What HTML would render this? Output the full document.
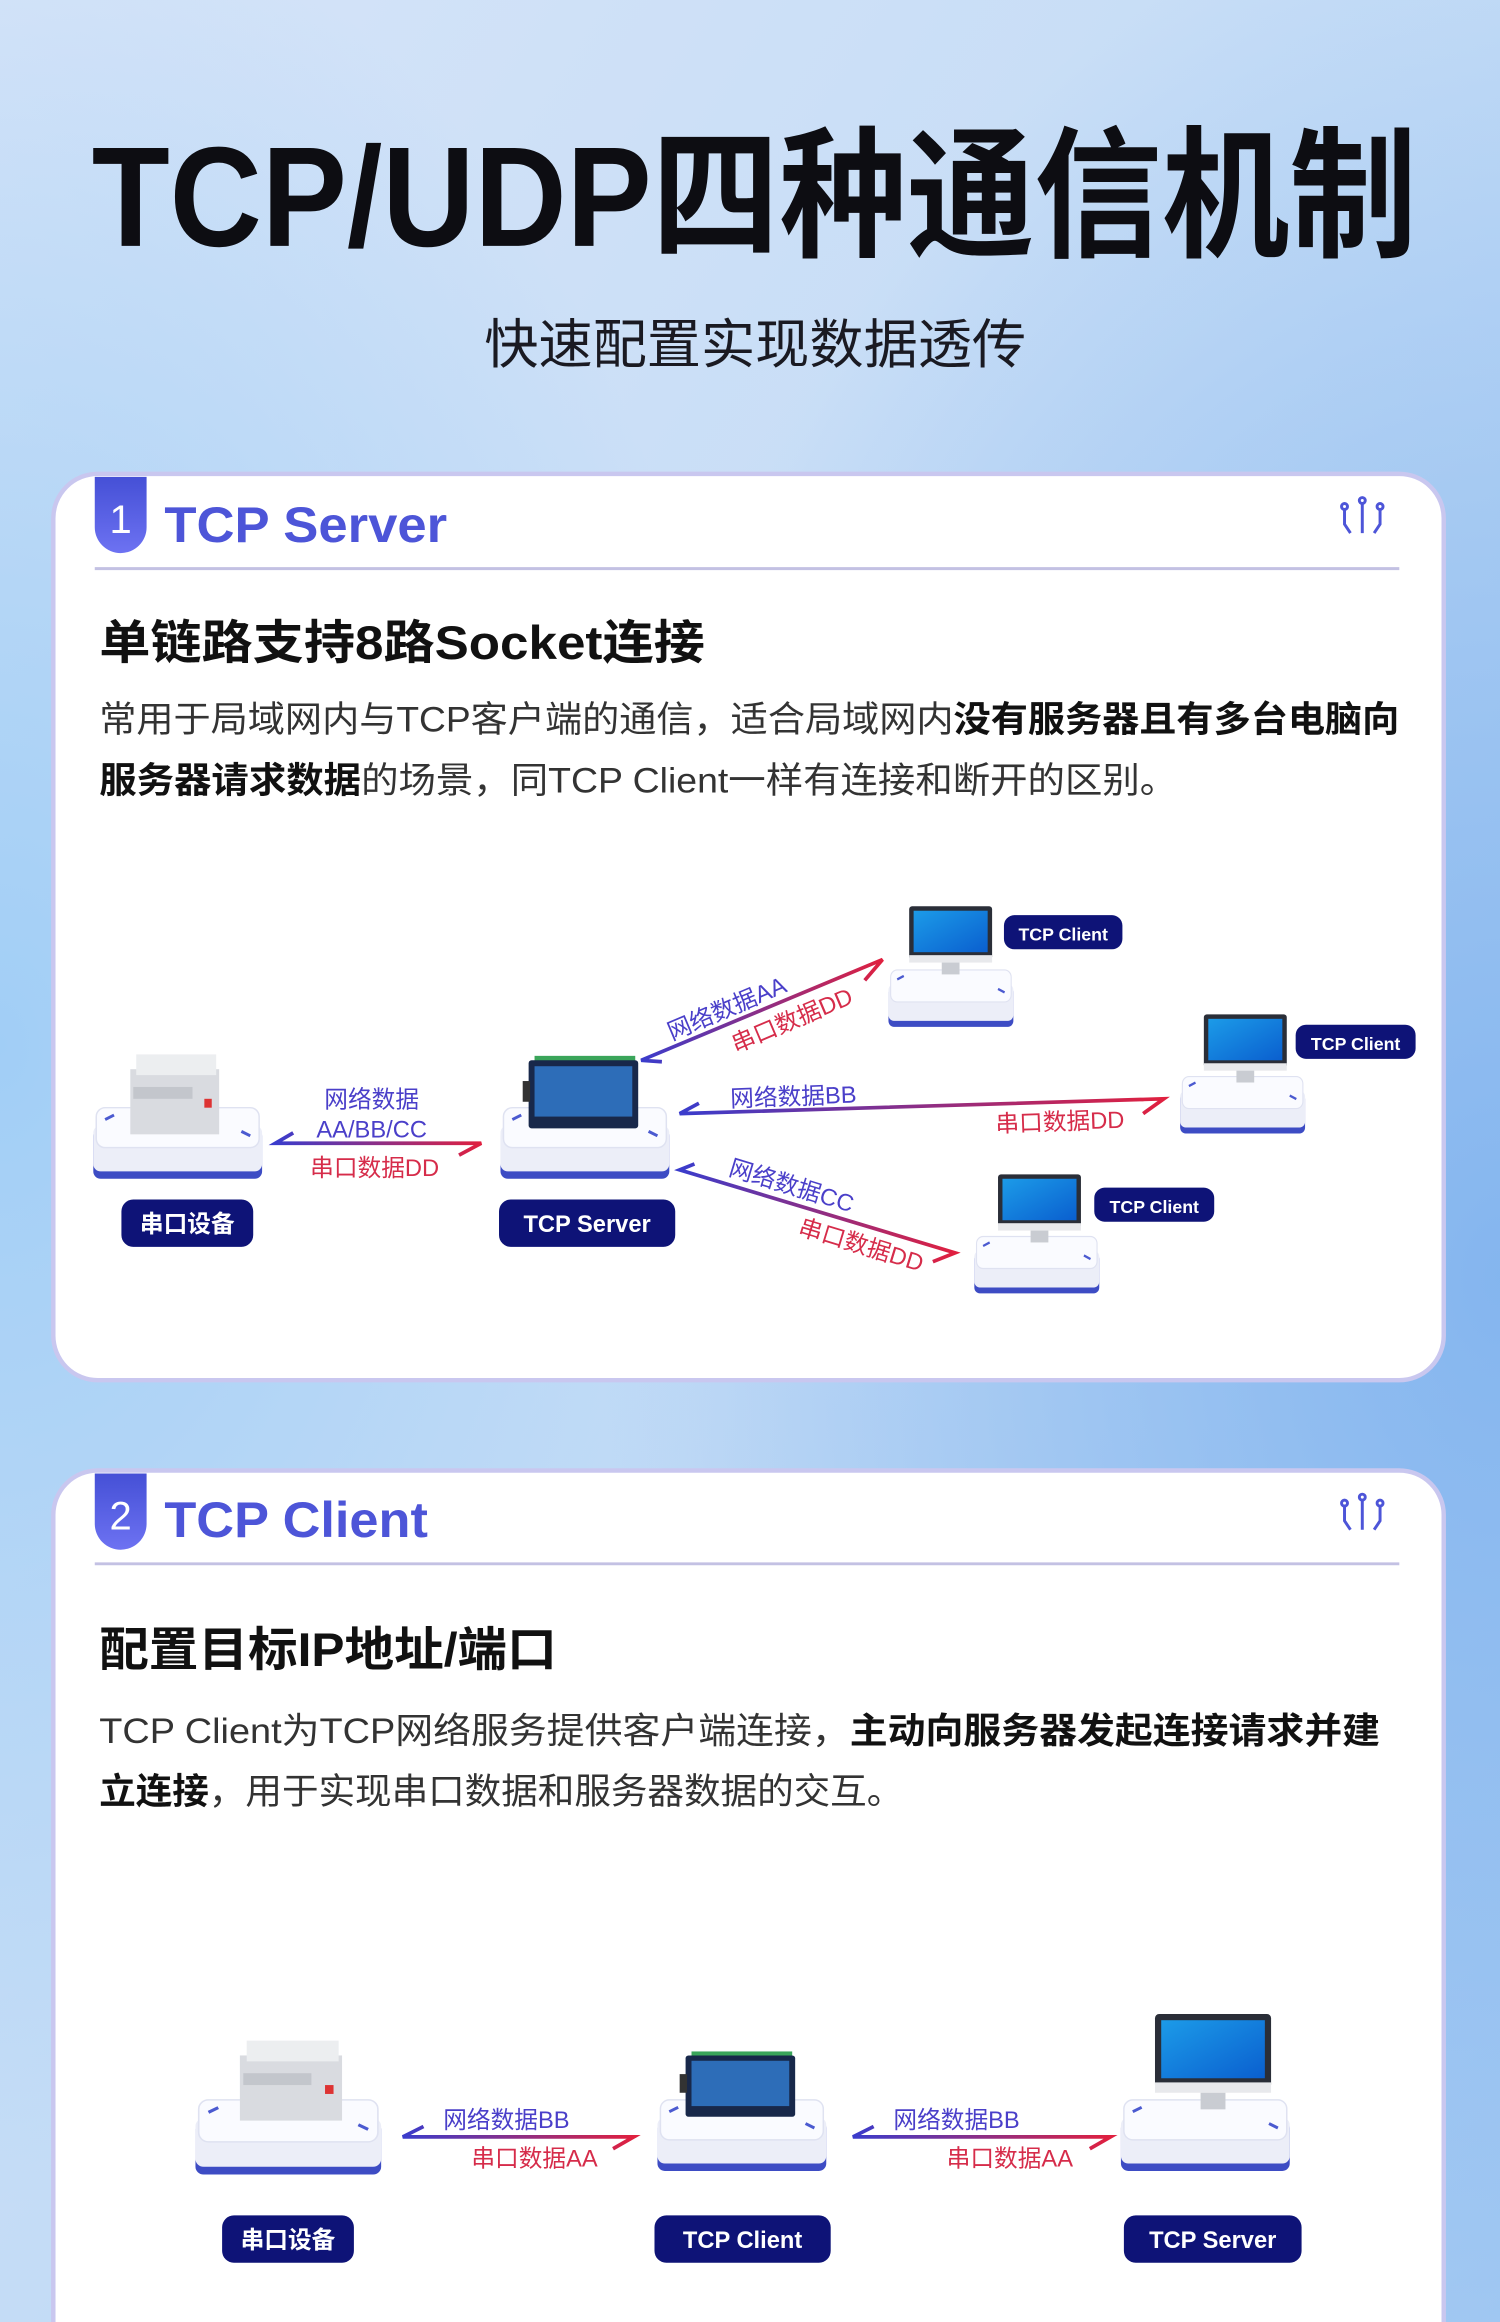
<!DOCTYPE html>
<html><head><meta charset="utf-8"><style>
html,body{margin:0;padding:0;width:1500px;height:2322px;overflow:hidden}
svg{display:block}
text{font-family:"Liberation Sans","Noto Sans CJK SC",sans-serif}
</style></head><body>
<svg width="1500" height="2322" viewBox="0 0 1013 1568" preserveAspectRatio="none" xmlns="http://www.w3.org/2000/svg">
<defs>
<linearGradient id="bg" x1="0" y1="0" x2="1" y2="1">
<stop offset="0" stop-color="#d6e4f8"/><stop offset="0.5" stop-color="#c4dcf6"/><stop offset="1" stop-color="#a9cdf3"/></linearGradient>
<radialGradient id="bg2" cx="1" cy="0.55" r="0.6"><stop offset="0" stop-color="#7fb2ee" stop-opacity="0.9"/><stop offset="1" stop-color="#7fb2ee" stop-opacity="0"/></radialGradient>
<radialGradient id="bg3" cx="0" cy="0.45" r="0.5"><stop offset="0" stop-color="#9cccf6" stop-opacity="0.9"/><stop offset="1" stop-color="#9cccf6" stop-opacity="0"/></radialGradient>
<linearGradient id="badge" x1="0" y1="0" x2="0" y2="1"><stop offset="0" stop-color="#4550d6"/><stop offset="1" stop-color="#6d72f2"/></linearGradient>
<linearGradient id="scr" x1="0" y1="0" x2="1" y2="1"><stop offset="0" stop-color="#1c9be8"/><stop offset="1" stop-color="#0a5fcf"/></linearGradient>
<g id="base">
<rect x="0" y="14" width="114" height="34" rx="5" fill="#3d4cc4"/>
<rect x="0" y="12" width="114" height="31" rx="5" fill="#eceef8"/>
<rect x="2" y="0" width="110" height="27" rx="6" fill="#fafbff" stroke="#dfe2f1"/>
<path d="M8 8 l6 -3 M100 16 l6 3" stroke="#4b5ad0" stroke-width="2"/>
</g>
<g id="printer">
<rect x="0" y="10" width="60" height="44" fill="#d9dbe0"/>
<rect x="4" y="0" width="54" height="14" fill="#eceef0"/>
<rect x="2" y="22" width="40" height="8" fill="#c3c6cc"/>
<rect x="50" y="30" width="5" height="6" fill="#d33"/>
</g>
<g id="device">
<rect x="4" y="-3" width="68" height="6" fill="#3aa55a"/>
<rect x="0" y="0" width="74" height="46" rx="2" fill="#18284a"/>
<rect x="4" y="4" width="66" height="34" fill="#2d6db8"/>
<rect x="-4" y="14" width="5" height="14" fill="#333"/>
</g>
<g id="monitor">
<rect x="0" y="0" width="56" height="36" rx="2" fill="#2a2e38"/>
<rect x="3" y="3" width="50" height="28" fill="url(#scr)"/>
<rect x="0" y="33" width="56" height="5" fill="#e8e9ec"/>
<rect x="22" y="38" width="12" height="8" fill="#c9ccd2"/>
</g>
</defs>
<rect width="1013" height="1568" fill="url(#bg)"/>
<rect width="1013" height="1568" fill="url(#bg2)"/>
<rect width="1013" height="1568" fill="url(#bg3)"/>

<text x="62" y="166" font-size="96" font-weight="bold" fill="#0d0d12" textLength="895" lengthAdjust="spacingAndGlyphs">TCP/UDP四种通信机制</text>
<text x="327" y="245" font-size="36" fill="#1a1a22" textLength="366" lengthAdjust="spacingAndGlyphs">快速配置实现数据透传</text>

<!-- Card 1 -->
<rect x="36" y="320" width="939" height="612" rx="30" fill="#fff" stroke="#c9c7ef" stroke-width="3"/>
<path d="M64 322 h35 v34 a17.5 17.5 0 0 1 -35 0 z" fill="url(#badge)"/>
<text x="81.5" y="360" font-size="27" fill="#fff" text-anchor="middle">1</text>
<text x="111" y="366" font-size="34" fill="#4d55d8" font-weight="bold" textLength="191" lengthAdjust="spacingAndGlyphs">TCP Server</text>
<line x1="64" y1="384" x2="945" y2="384" stroke="#c3c1e3" stroke-width="2"/>
<g stroke="#4d55d8" stroke-width="2" fill="none"><path d="M908 344 v10 l4 6 M920 340 v20 M932 344 v10 l-4 6"/><circle cx="908" cy="342" r="2"/><circle cx="920" cy="338" r="2"/><circle cx="932" cy="342" r="2"/></g>
<text x="67" y="445" font-size="32" font-weight="bold" fill="#111" textLength="409" lengthAdjust="spacingAndGlyphs">单链路支持8路Socket连接</text>
<text x="67" y="494" font-size="24" fill="#333" textLength="878" lengthAdjust="spacingAndGlyphs">常用于局域网内与TCP客户端的通信，适合局域网内<tspan font-weight="bold" fill="#111">没有服务器且有多台电脑向</tspan></text>
<text x="67" y="535" font-size="24" fill="#333" textLength="728" lengthAdjust="spacingAndGlyphs"><tspan font-weight="bold" fill="#111">服务器请求数据</tspan>的场景，同TCP Client一样有连接和断开的区别。</text>

<!-- diagram 1 -->
<use href="#base" transform="translate(63,748)"/>
<use href="#printer" transform="translate(88,712)"/>
<use href="#base" transform="translate(338,748)"/>
<use href="#device" transform="translate(357,716)"/>
<use href="#base" transform="translate(600,655) scale(0.74,0.8)"/>
<use href="#monitor" transform="translate(614,612)"/>
<use href="#base" transform="translate(797,727) scale(0.74,0.8)"/>
<use href="#monitor" transform="translate(813,685)"/>
<use href="#base" transform="translate(658,835) scale(0.74,0.8)"/>
<use href="#monitor" transform="translate(674,793)"/>

<g fill="#0e1377">
<rect x="82" y="810" width="89" height="32" rx="8"/>
<rect x="337" y="810" width="119" height="32" rx="8"/>
<rect x="678" y="618" width="80" height="23" rx="7"/>
<rect x="875" y="692" width="81" height="23" rx="7"/>
<rect x="739" y="802" width="81" height="23" rx="7"/>
</g>
<g fill="#fff" font-weight="bold" text-anchor="middle">
<text x="126.5" y="832" font-size="16">串口设备</text>
<text x="396.5" y="832" font-size="16">TCP Server</text>
<text x="718" y="635" font-size="12">TCP Client</text>
<text x="915.5" y="709" font-size="12">TCP Client</text>
<text x="779.5" y="819" font-size="12">TCP Client</text>
</g>

<defs>
<linearGradient id="a1" gradientUnits="userSpaceOnUse" x1="186" y1="0" x2="325" y2="0"><stop offset="0" stop-color="#3a3ccc"/><stop offset="1" stop-color="#e0203f"/></linearGradient>
<linearGradient id="a2" gradientUnits="userSpaceOnUse" x1="433" y1="716" x2="596" y2="648"><stop offset="0" stop-color="#3a3ccc"/><stop offset="1" stop-color="#e0203f"/></linearGradient>
<linearGradient id="a3" gradientUnits="userSpaceOnUse" x1="459" y1="0" x2="786" y2="0"><stop offset="0" stop-color="#3a3ccc"/><stop offset="1" stop-color="#e0203f"/></linearGradient>
<linearGradient id="a4" gradientUnits="userSpaceOnUse" x1="459" y1="790" x2="645" y2="846"><stop offset="0" stop-color="#3a3ccc"/><stop offset="1" stop-color="#e0203f"/></linearGradient>
<linearGradient id="a5" gradientUnits="userSpaceOnUse" x1="272" y1="0" x2="428" y2="0"><stop offset="0" stop-color="#3a3ccc"/><stop offset="1" stop-color="#e0203f"/></linearGradient>
<linearGradient id="a6" gradientUnits="userSpaceOnUse" x1="576" y1="0" x2="750" y2="0"><stop offset="0" stop-color="#3a3ccc"/><stop offset="1" stop-color="#e0203f"/></linearGradient>
</defs>
<g fill="none" stroke-width="2.5">
<path d="M198 765 L186 772 L325 772 L310 780" stroke="url(#a1)"/>
<path d="M447 717 L433 716 L596 648 L584 662" stroke="url(#a2)"/>
<path d="M472 745 L459 752 L786 742 L772 752" stroke="url(#a3)"/>
<path d="M469 786 L459 790 L645 846 L630 852" stroke="url(#a4)"/>
</g>
<g font-size="16">
<text x="251" y="748" fill="#4a3fc9" text-anchor="middle">网络数据</text>
<text x="251" y="768" fill="#4a3fc9" text-anchor="middle">AA/BB/CC</text>
<text x="253" y="794" fill="#d62c4a" text-anchor="middle">串口数据DD</text>
<text x="493" y="686" fill="#4a3fc9" text-anchor="middle" transform="rotate(-23 493 686)">网络数据AA</text>
<text x="537" y="694" fill="#d62c4a" text-anchor="middle" transform="rotate(-23 537 694)">串口数据DD</text>
<text x="536" y="746" fill="#4a3fc9" text-anchor="middle" transform="rotate(-2 536 746)">网络数据BB</text>
<text x="716" y="763" fill="#d62c4a" text-anchor="middle" transform="rotate(-2 716 763)">串口数据DD</text>
<text x="533" y="806" fill="#4a3fc9" text-anchor="middle" transform="rotate(17 533 806)">网络数据CC</text>
<text x="580" y="846" fill="#d62c4a" text-anchor="middle" transform="rotate(17 580 846)">串口数据DD</text>
</g>

<!-- Card 2 -->
<rect x="36" y="993" width="939" height="620" rx="30" fill="#fff" stroke="#c9c7ef" stroke-width="3"/>
<path d="M64 995 h35 v34 a17.5 17.5 0 0 1 -35 0 z" fill="url(#badge)"/>
<text x="81.5" y="1033" font-size="27" fill="#fff" text-anchor="middle">2</text>
<text x="111" y="1038" font-size="34" fill="#4d55d8" font-weight="bold" textLength="178" lengthAdjust="spacingAndGlyphs">TCP Client</text>
<line x1="64" y1="1056" x2="945" y2="1056" stroke="#c3c1e3" stroke-width="2"/>
<g stroke="#4d55d8" stroke-width="2" fill="none"><path d="M908 1017 v10 l4 6 M920 1013 v20 M932 1017 v10 l-4 6"/><circle cx="908" cy="1015" r="2"/><circle cx="920" cy="1011" r="2"/><circle cx="932" cy="1015" r="2"/></g>
<text x="67" y="1125" font-size="32" font-weight="bold" fill="#111" textLength="309" lengthAdjust="spacingAndGlyphs">配置目标IP地址/端口</text>
<text x="67" y="1177" font-size="24" fill="#333" textLength="865" lengthAdjust="spacingAndGlyphs">TCP Client为TCP网络服务提供客户端连接，<tspan font-weight="bold" fill="#111">主动向服务器发起连接请求并建</tspan></text>
<text x="67" y="1218" font-size="24" fill="#333" textLength="543" lengthAdjust="spacingAndGlyphs"><tspan font-weight="bold" fill="#111">立连接</tspan>，用于实现串口数据和服务器数据的交互。</text>

<use href="#base" transform="translate(132,1418) scale(1.1,1.05)"/>
<use href="#printer" transform="translate(162,1378) scale(1.15,1)"/>
<use href="#base" transform="translate(444,1418)"/>
<use href="#device" transform="translate(463,1388) scale(1,0.9)"/>
<use href="#base" transform="translate(757,1418)"/>
<use href="#monitor" transform="translate(780,1360) scale(1.4,1.4)"/>
<g fill="none" stroke-width="2.5">
<path d="M286 1436 L272 1443 L428 1443 L414 1451" stroke="url(#a5)"/>
<path d="M590 1436 L576 1443 L750 1443 L736 1451" stroke="url(#a6)"/>
</g>
<g font-size="16" text-anchor="middle">
<text x="342" y="1437" fill="#4a3fc9">网络数据BB</text>
<text x="361" y="1463" fill="#d62c4a">串口数据AA</text>
<text x="646" y="1437" fill="#4a3fc9">网络数据BB</text>
<text x="682" y="1463" fill="#d62c4a">串口数据AA</text>
</g>
<g fill="#0e1377">
<rect x="150" y="1496" width="89" height="32" rx="8"/>
<rect x="442" y="1496" width="119" height="32" rx="8"/>
<rect x="759" y="1496" width="120" height="32" rx="8"/>
</g>
<g fill="#fff" font-weight="bold" text-anchor="middle" font-size="16">
<text x="194.5" y="1518">串口设备</text>
<text x="501.5" y="1518">TCP Client</text>
<text x="819" y="1518">TCP Server</text>
</g>
</svg>
</body></html>
